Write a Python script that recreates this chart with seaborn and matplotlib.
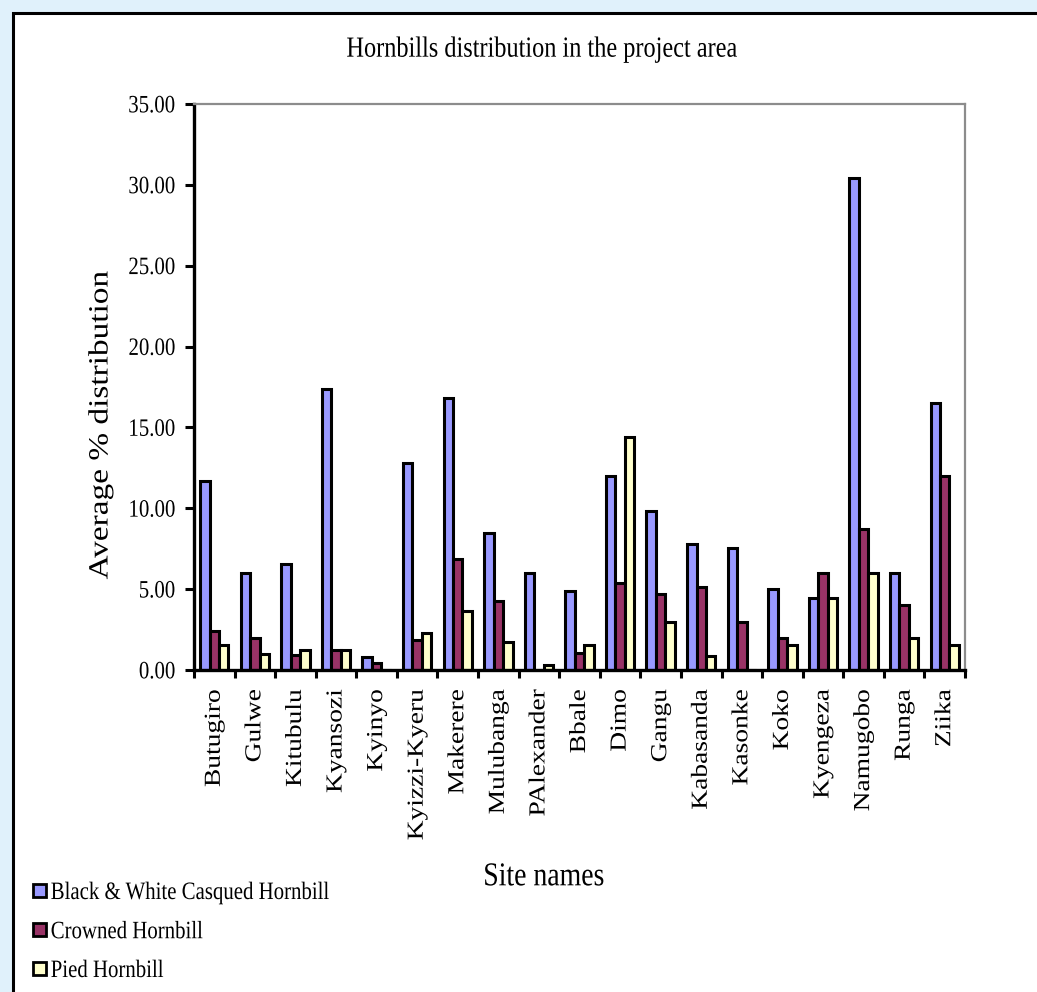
import numpy as np
import pandas as pd
import seaborn as sns
import matplotlib
matplotlib.use("Agg")
import matplotlib.pyplot as plt
from matplotlib.patches import Rectangle, Patch
from matplotlib.patheffects import AbstractPathEffect
from matplotlib.transforms import Affine2D
from matplotlib.ticker import FormatStrFormatter, FixedLocator

sites = ["Butugiro", "Gulwe", "Kitubulu", "Kyansozi", "Kyinyo", "Kyizzi-Kyeru",
         "Makerere", "Mulubanga", "PAlexander", "Bbale", "Dimo", "Gangu",
         "Kabasanda", "Kasonke", "Koko", "Kyengeza", "Namugobo", "Runga", "Ziika"]

species = ["Black & White Casqued Hornbill", "Crowned Hornbill", "Pied Hornbill"]

bw_casqued = [11.70, 6.00, 6.55, 17.38, 0.78, 12.78, 16.80, 8.50, 6.00, 4.90,
              12.00, 9.83, 7.77, 7.53, 5.00, 4.45, 30.45, 6.00, 16.50]
crowned = [2.43, 1.96, 0.90, 1.24, 0.45, 1.86, 6.86, 4.27, 0.00, 1.07,
           5.38, 4.68, 5.13, 2.95, 1.98, 6.00, 8.70, 4.05, 12.00]
pied = [1.55, 0.99, 1.24, 1.24, 0.00, 2.31, 3.65, 1.73, 0.30, 1.55,
        14.40, 2.95, 0.88, 0.00, 1.55, 4.45, 6.00, 1.98, 1.55]

colors = ["#9999FF", "#993366", "#FFFFCC"]

df = pd.DataFrame({
    "site": sites * 3,
    "species": np.repeat(species, len(sites)),
    "value": bw_casqued + crowned + pied,
})


class VerticalStretch(AbstractPathEffect):
    """Draw text stretched vertically (in display space) by a factor."""

    def __init__(self, factor=1.2, anchor="center"):
        super().__init__()
        self.factor = factor
        self.anchor = anchor

    def draw_path(self, renderer, gc, tpath, affine, rgbFace=None):
        bb = tpath.get_extents(affine)
        y0 = bb.y1 if self.anchor == "top" else 0.5 * (bb.y0 + bb.y1)
        stretched = affine + Affine2D().translate(0, -y0).scale(1, self.factor).translate(0, y0)
        renderer.draw_path(gc, tpath, stretched, rgbFace)


STRETCH = 1.2

sns.set_style("white")
plt.rcParams["font.family"] = ["Liberation Serif", "DejaVu Serif"]
plt.rcParams["text.color"] = "black"
plt.rcParams["xtick.color"] = "black"
plt.rcParams["ytick.color"] = "black"
plt.rcParams["axes.labelcolor"] = "black"

W, H = 1037, 992
fig = plt.figure(figsize=(W / 100, H / 100), dpi=100)
fig.patch.set_facecolor("#E0F1FB")

# white chart area with a black frame on the left and top edges
frame = Rectangle((13 / W, -0.05), 1.1, (H - 13) / H + 0.05,
                  transform=fig.transFigure, facecolor="white",
                  edgecolor="black", linewidth=2.2, zorder=-10)
fig.patches.append(frame)

ax = fig.add_axes([194 / W, (H - 670) / H, 771 / W, 566 / H])
ax.set_zorder(2)
ax.set_facecolor("white")

sns.barplot(data=df, x="site", y="value", hue="species", order=sites,
            hue_order=species, palette=colors, width=0.7, dodge=True,
            edgecolor="black", linewidth=2.2, saturation=1, ax=ax,
            legend=False)

ax.set_ylim(0, 35)
ax.set_xlim(-0.5, len(sites) - 0.5)
ax.set_yticks(np.arange(0, 35.1, 5))
ax.yaxis.set_major_formatter(FormatStrFormatter("%.2f"))
ax.tick_params(axis="y", which="major", direction="out", length=6.5, width=2.2,
               color="black", labelcolor="black", labelsize=15, pad=7,
               left=True)

ax.set_xticks(range(len(sites)))
ax.set_xticklabels(sites, rotation=90, fontsize=16.5)
ax.tick_params(axis="x", which="major", length=0, pad=14, labelcolor="black")
ax.xaxis.set_minor_locator(FixedLocator(np.arange(-0.5, len(sites), 1.0)))
ax.tick_params(axis="x", which="minor", direction="out", length=6, width=2.2,
               color="black", bottom=True)

for side in ("left", "bottom"):
    ax.spines[side].set_color("black")
    ax.spines[side].set_linewidth(2.4)
for side in ("top", "right"):
    ax.spines[side].set_visible(True)
    ax.spines[side].set_color("#8C8C8C")
    ax.spines[side].set_linewidth(1.6)

ax.set_xlabel("")
ax.set_ylabel("")

for lbl in ax.get_yticklabels():
    lbl.set_path_effects([VerticalStretch(STRETCH)])
for lbl in ax.get_xticklabels():
    lbl.set_path_effects([VerticalStretch(STRETCH, anchor="top")])

title = fig.text(542 / W, 1 - 50 / H, "Hornbills distribution in the project area",
                 ha="center", va="center", fontsize=17.5, color="black")
ylab = fig.text(101 / W, 1 - 425 / H, "Average % distribution", rotation=90,
                ha="center", va="center", fontsize=20, color="black")
xlab = fig.text(544 / W, 1 - 877 / H, "Site names", ha="center", va="center",
                fontsize=20, color="black")
for t in (title, ylab, xlab):
    t.set_path_effects([VerticalStretch(STRETCH)])

handles = [Patch(facecolor=c, edgecolor="black", linewidth=2.0) for c in colors]
leg = fig.legend(handles, species, loc="upper left",
                 bbox_to_anchor=(33 / W, 1 - 884 / H), frameon=False, fontsize=15,
                 handlelength=0.6, handleheight=0.6, handletextpad=0.25,
                 labelspacing=0.95, borderpad=0, borderaxespad=0,
                 labelcolor="black")
for t in leg.get_texts():
    t.set_path_effects([VerticalStretch(STRETCH)])

fig.savefig("out.png", dpi=100, facecolor=fig.get_facecolor())
